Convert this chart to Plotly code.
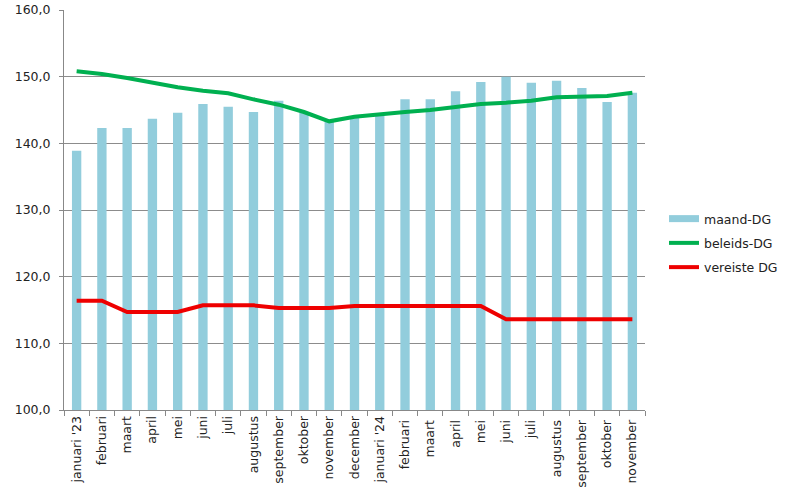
import plotly.graph_objects as go

categories = ["januari '23", "februari", "maart", "april", "mei", "juni", "juli",
              "augustus", "september", "oktober", "november", "december",
              "januari '24", "februari ", "maart ", "april ", "mei ", "juni ", "juli ",
              "augustus ", "september ", "oktober ", "november "]

maand_dg = [138.9, 142.3, 142.3, 143.7, 144.6, 145.9, 145.5, 144.7, 146.4, 144.6,
            143.4, 143.8, 144.2, 146.6, 146.6, 147.8, 149.2, 150.0, 149.1, 149.4,
            148.3, 146.2, 147.6]
beleids_dg = [150.8, 150.4, 149.8, 149.1, 148.4, 147.9, 147.5, 146.6, 145.8, 144.7,
              143.3, 144.0, 144.4, 144.7, 145.0, 145.5, 145.9, 146.1, 146.4, 146.9,
              147.0, 147.1, 147.6]
vereiste_dg = [116.4, 116.4, 114.7, 114.7, 114.7, 115.7, 115.7, 115.7, 115.3, 115.3,
               115.3, 115.6, 115.6, 115.6, 115.6, 115.6, 115.6, 113.6, 113.6, 113.6,
               113.6, 113.6, 113.6]

font = "DejaVu Sans, Verdana, sans-serif"
bar_color = "#92CDDC"

fig = go.Figure()
fig.add_trace(go.Bar(x=categories, y=maand_dg, name="maand-DG", showlegend=False,
                     marker=dict(color=bar_color, line=dict(width=0))))
# legend entry for the bars (wide rectangle like the original)
fig.add_trace(go.Scatter(x=[None], y=[None], name="maand-DG", mode="lines",
                         legendgroup="a", line=dict(color=bar_color, width=7)))
fig.add_trace(go.Scatter(x=categories, y=beleids_dg, name="beleids-DG", mode="lines",
                         legendgroup="b", line=dict(color="#00B050", width=4)))
fig.add_trace(go.Scatter(x=categories, y=vereiste_dg, name="vereiste DG", mode="lines",
                         legendgroup="c", line=dict(color="#EE0000", width=4)))

fig.update_layout(
    width=800, height=500,
    margin=dict(l=64, r=155, t=10, b=90),
    paper_bgcolor="white", plot_bgcolor="white",
    font=dict(family=font, size=12.5, color="#222"),
    bargap=0.63,
    separators=",.",
    showlegend=True,
    legend=dict(x=1.0327, xanchor="left", y=0.4175, yanchor="middle",
                font=dict(size=12.5, color="#222"), tracegroupgap=5,
                itemwidth=30, bgcolor="rgba(0,0,0,0)"),
)
fig.update_xaxes(
    type="category", tickangle=-90, showgrid=False, automargin=False,
    showline=True, linecolor="#888", linewidth=1,
    ticks="outside", tickson="boundaries", ticklen=5, tickcolor="#888",
    tickfont=dict(size=12.5, color="#222"),
)
fig.update_yaxes(
    range=[100, 160], dtick=10, tickformat=".1f", automargin=False,
    showgrid=True, gridcolor="#8c8c8c", gridwidth=1,
    showline=True, linecolor="#888", linewidth=1,
    ticks="outside", ticklen=4, tickcolor="#888", ticklabelstandoff=6,
    tickfont=dict(size=12.5, color="#222"), zeroline=False,
)

fig.write_html("out.html", config={"displayModeBar": False},
               post_script="document.body.style.margin='0';document.body.style.overflow='hidden';")
